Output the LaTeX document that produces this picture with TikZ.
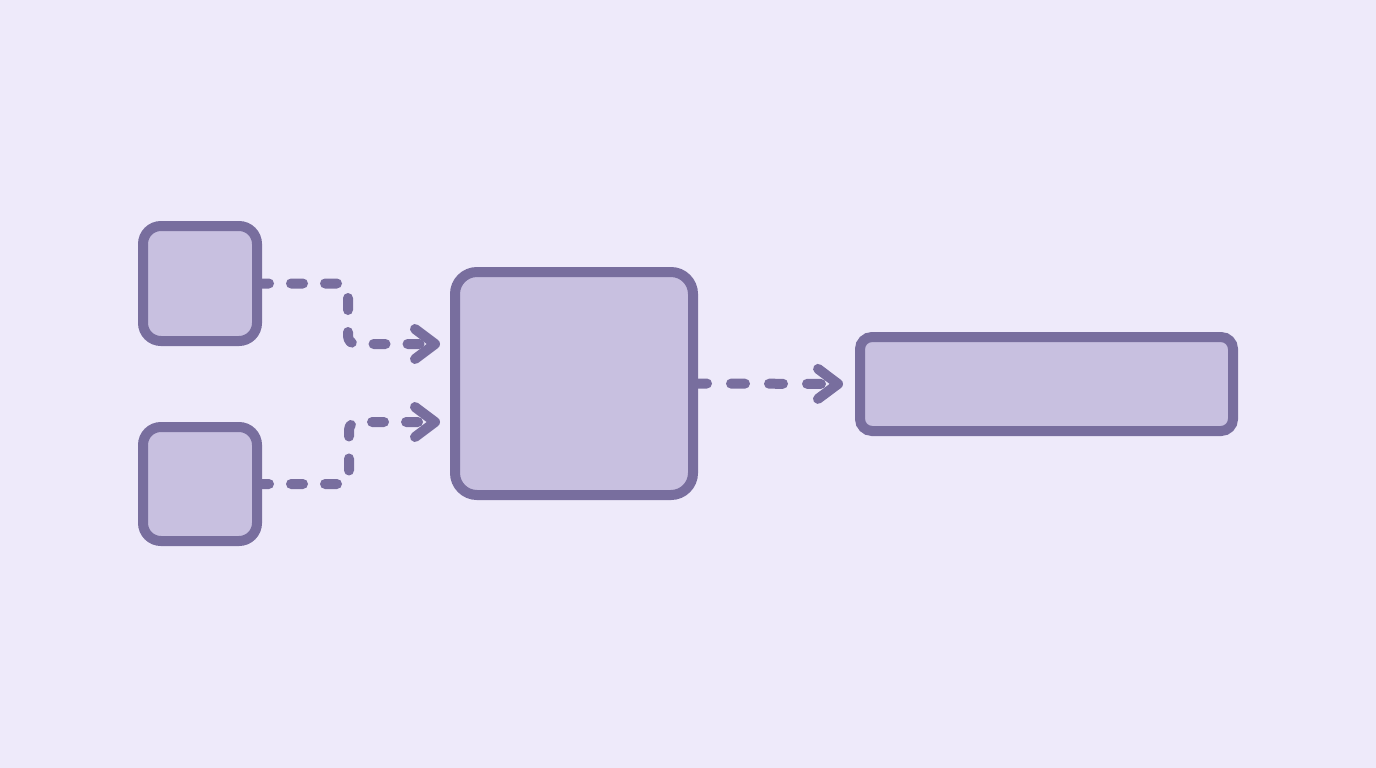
\documentclass[tikz,border=0pt]{standalone}
\usetikzlibrary{arrows.meta}
\definecolor{bgc}{HTML}{EEEAFA}
\definecolor{strk}{HTML}{786E9E}
\definecolor{boxfill}{HTML}{C8C0E0}
\begin{document}
\begin{tikzpicture}[x=1pt,y=-1pt,
  box/.style={draw=strk,fill=boxfill,line width=10pt,inner sep=0pt,outer sep=0pt},
  conn/.style={draw=strk,line width=10pt,line cap=round,line join=round,
    dash pattern=on 12pt off 22pt,rounded corners=8pt,
    -{Straight Barb[length=20pt,width=30pt,round]}}]
\fill[bgc] (0,0) rectangle (1376,768);
\useasboundingbox (0,0) rectangle (1376,768);
\node[box,rounded corners=18pt,minimum width=114pt,minimum height=115pt] (A) at (200,283.5) {};
\node[box,rounded corners=18pt,minimum width=114pt,minimum height=114pt] (B) at (200,484) {};
\node[box,rounded corners=22pt,minimum width=238pt,minimum height=223pt] (C) at (574,383.5) {};
\node[box,rounded corners=12pt,minimum width=373pt,minimum height=94pt] (D) at (1046.5,384) {};
\coordinate (c1) at ([yshift=39.5pt]C.west);
\coordinate (c2) at ([yshift=-38.5pt]C.west);
\draw[conn,shorten >=15pt] (A.east) -- ++(91,0) |- (c1);
\draw[conn,shorten >=15pt] (B.east) -- ++(92,0) |- (c2);
\draw[conn,dash pattern=on 14pt off 24pt,shorten >=17pt] (C.east) -- (D.west);
\end{tikzpicture}
\end{document}
